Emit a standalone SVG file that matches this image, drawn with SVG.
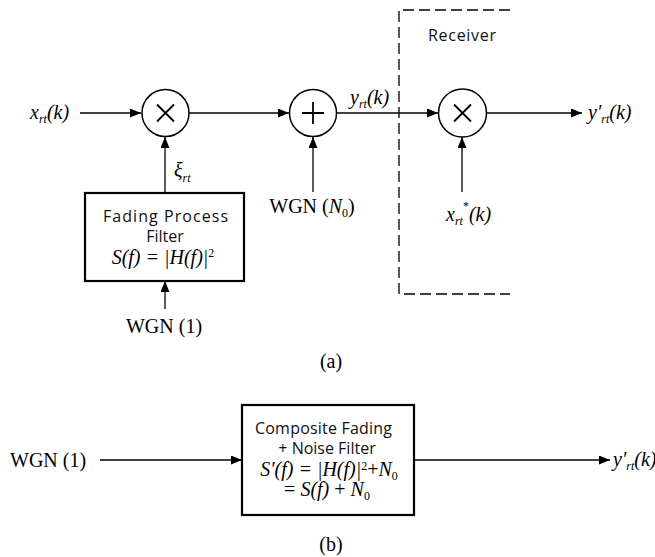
<svg xmlns="http://www.w3.org/2000/svg" width="655" height="557" viewBox="0 0 655 557">
<style>
.bg{fill:#fff}
.arr{stroke:#000;stroke-width:1.3;fill:none;marker-end:url(#ah)}
.op{stroke:#000;stroke-width:1.5;fill:#fff}
.sym{stroke:#000;stroke-width:1.8;fill:none}
.box{stroke:#000;stroke-width:2.2;fill:#fff}
.dash{stroke:#000;stroke-width:1.3;fill:none;stroke-dasharray:11 5}
.m{font-family:"Liberation Serif",serif;font-style:italic;font-size:20px;fill:#000}
.r{font-family:"Liberation Serif",serif;font-size:20px;fill:#000}
.h{font-family:"Open Sans","DejaVu Sans",sans-serif;font-size:16px;fill:#111}
.s{font-size:12px}
.u{font-style:normal}
</style>
<defs>
<marker id="ah" markerUnits="userSpaceOnUse" markerWidth="12" markerHeight="10" refX="11" refY="4.5" orient="auto">
<path d="M0,0 L11,4.5 L0,9 Z" fill="#000"/>
</marker>
</defs>
<rect class="bg" x="0" y="0" width="655" height="557"/>

<g id="connectors">
<line class="arr" x1="80" y1="113" x2="141" y2="113"/>
<line class="arr" x1="189" y1="113" x2="289" y2="113"/>
<line class="arr" x1="337" y1="113" x2="438" y2="113"/>
<line class="arr" x1="486" y1="113" x2="582" y2="113"/>
<line class="arr" x1="165" y1="193" x2="165" y2="137"/>
<line class="arr" x1="313" y1="192" x2="313" y2="137"/>
<line class="arr" x1="462" y1="192" x2="462" y2="137"/>
<line class="arr" x1="165" y1="309" x2="165" y2="281"/>
<line class="arr" x1="100" y1="460" x2="242" y2="460"/>
<line class="arr" x1="414" y1="460" x2="610" y2="460"/>
</g>

<g id="receiver-boundary">
<path class="dash" d="M510,10 H399 V294 H510"/>
<text class="h" x="428" y="41" textLength="68">Receiver</text>
</g>

<g id="input-x">
<text class="m" x="30" y="119">x<tspan class="s" dy="4">rt</tspan><tspan dy="-4">(k)</tspan></text>
</g>

<g id="mult1">
<circle class="op" cx="165.5" cy="113" r="23.5"/>
<path class="sym" d="M157,104.5 L174,121.5 M174,104.5 L157,121.5"/>
</g>

<g id="xi-label">
<text class="m" x="174" y="177" font-size="17">ξ<tspan class="s" dy="5" font-size="11">rt</tspan></text>
</g>

<g id="fading-filter">
<rect class="box" x="85" y="193" width="159" height="88"/>
<text class="h" x="103" y="222" textLength="125">Fading Process</text>
<text class="h" x="165" y="242" text-anchor="middle">Filter</text>
<text class="m" x="163" y="264" text-anchor="middle" font-size="19">S(f) = |H(f)|<tspan class="s u" dy="-7">2</tspan></text>
</g>

<g id="wgn1-a">
<text class="r" x="164" y="333" text-anchor="middle">WGN (1)</text>
</g>

<g id="adder">
<circle class="op" cx="313" cy="113" r="23.5"/>
<path class="sym" d="M302,113 H324 M313,102 V124"/>
</g>

<g id="wgn-n0">
<text class="r" x="312" y="213" text-anchor="middle">WGN (<tspan font-style="italic">N</tspan><tspan class="s" dy="4">0</tspan><tspan dy="-4">)</tspan></text>
</g>

<g id="y-label">
<text class="m" x="350" y="104">y<tspan class="s" dy="4">rt</tspan><tspan dy="-4">(k)</tspan></text>
</g>

<g id="mult2">
<circle class="op" cx="462.5" cy="113" r="24"/>
<path class="sym" d="M454,104.5 L471,121.5 M471,104.5 L454,121.5"/>
</g>

<g id="xconj-label">
<text class="m" x="446" y="221">x<tspan class="s" dy="4">rt</tspan><tspan class="s u" dy="-15">*</tspan><tspan dy="11">(k)</tspan></text>
</g>

<g id="output-a">
<text class="m" x="588" y="119">y′<tspan class="s" dy="4">rt</tspan><tspan dy="-4">(k)</tspan></text>
</g>

<g id="caption-a">
<text class="r" x="331" y="368" text-anchor="middle">(a)</text>
</g>

<g id="wgn1-b">
<text class="r" x="10" y="467">WGN (1)</text>
</g>

<g id="composite-filter">
<rect class="box" x="242" y="405" width="172" height="110"/>
<text class="h" x="255" y="434" textLength="137">Composite Fading</text>
<text class="h" x="327" y="454" text-anchor="middle">+ Noise Filter</text>
<text class="m" x="329" y="476" text-anchor="middle" font-size="18">S′(f) = |H(f)|<tspan class="s u" dy="-6">2</tspan><tspan class="u" dy="6">+</tspan>N<tspan class="s u" dy="4">0</tspan></text>
<text class="m" x="327" y="496" text-anchor="middle" font-size="18"><tspan class="u">=</tspan> S(f) <tspan class="u">+</tspan> N<tspan class="s u" dy="4">0</tspan></text>
</g>

<g id="output-b">
<text class="m" x="613" y="466" font-size="19">y′<tspan class="s" dy="4">rt</tspan><tspan dy="-4">(k)</tspan></text>
</g>

<g id="caption-b">
<text class="r" x="331" y="551" text-anchor="middle">(b)</text>
</g>
</svg>
